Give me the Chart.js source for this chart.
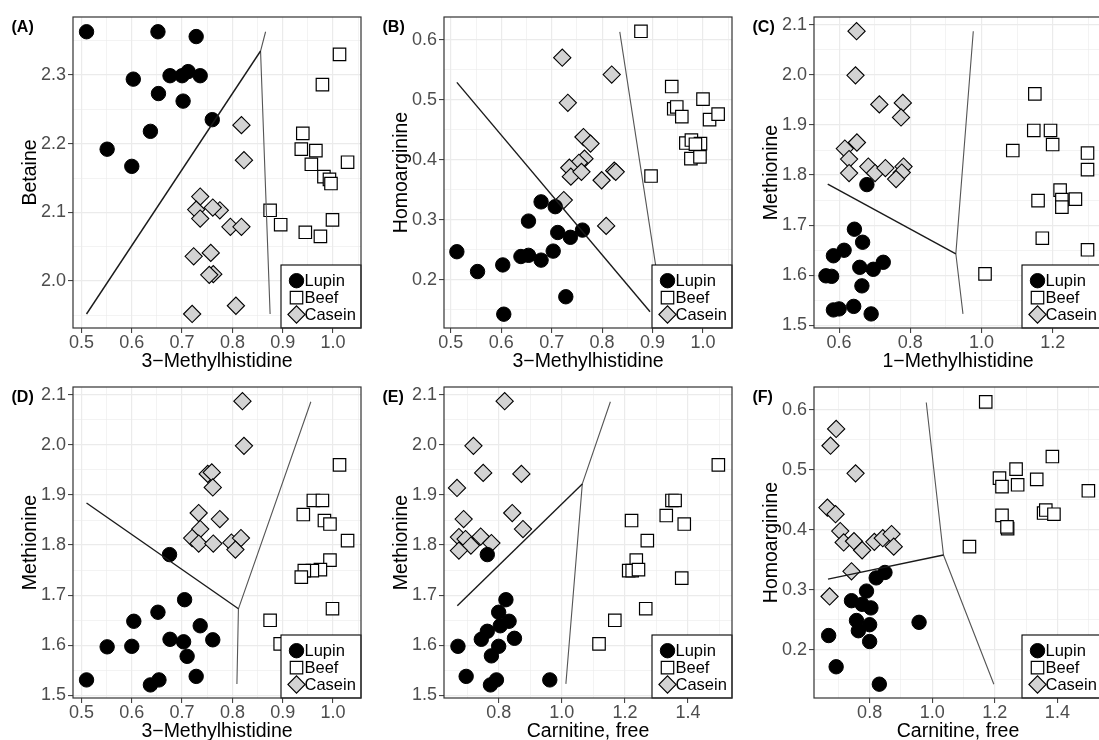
<!DOCTYPE html>
<html>
<head>
<meta charset="utf-8">
<title>Diet group separation plots</title>
<script src="https://cdn.jsdelivr.net/npm/chart.js@4.4.1/dist/chart.umd.min.js"></script>
<style>
  html, body { margin: 0; padding: 0; width: 1099px; height: 740px; overflow: hidden; background: #fff; }
  canvas { position: absolute; }
</style>
</head>
<body>
<canvas id="panelA" width="371" height="373" style="left:0px;top:0px"></canvas>
<canvas id="panelB" width="371" height="373" style="left:371px;top:0px"></canvas>
<canvas id="panelC" width="371" height="373" style="left:741px;top:0px"></canvas>
<canvas id="panelD" width="371" height="373" style="left:0px;top:370px"></canvas>
<canvas id="panelE" width="371" height="373" style="left:371px;top:370px"></canvas>
<canvas id="panelF" width="371" height="373" style="left:741px;top:370px"></canvas>
<script>
// ---- tick labels per variable ----
const ticks3MH = [0.5, 0.6, 0.7, 0.8, 0.9, 1.0];
const ticks1MH = [0.6, 0.8, 1.0, 1.2];
const ticksCarnitine = [0.8, 1.0, 1.2, 1.4];
const ticksBetaine = [2.0, 2.1, 2.2, 2.3];
const ticksHomoarginine = [0.2, 0.3, 0.4, 0.5, 0.6];
const ticksMethionine = [1.5, 1.6, 1.7, 1.8, 1.9, 2.0, 2.1];

// ---- (A) 3-Methylhistidine vs Betaine ----
const lupinA = [[0.510,2.363],[0.551,2.192],[0.600,2.167],[0.603,2.294],[0.637,2.218],[0.652,2.363],[0.653,2.273],[0.676,2.299],[0.700,2.299],[0.702,2.262],[0.712,2.305],[0.728,2.356],[0.736,2.299],[0.760,2.235]];
const beefA = [[1.013,2.330],[0.979,2.286],[0.940,2.215],[0.937,2.192],[0.966,2.190],[0.957,2.170],[1.029,2.173],[0.982,2.152],[0.993,2.148],[0.996,2.142],[0.875,2.103],[0.896,2.082],[0.999,2.089],[0.945,2.071],[0.975,2.065]];
const caseinA = [[0.818,2.227],[0.823,2.176],[0.736,2.123],[0.728,2.104],[0.775,2.103],[0.761,2.107],[0.736,2.091],[0.796,2.079],[0.818,2.079],[0.723,2.036],[0.757,2.041],[0.762,2.010],[0.754,2.009],[0.807,1.964],[0.720,1.952]];
const darkA = [[0.510,1.952],[0.856,2.335]];
const greyA = [[0.866,2.363],[0.856,2.335],[0.875,1.952]];

// ---- (B) 3-Methylhistidine vs Homoarginine ----
const lupinB = [[0.512,0.247],[0.553,0.214],[0.603,0.225],[0.605,0.143],[0.639,0.239],[0.654,0.298],[0.654,0.241],[0.679,0.330],[0.679,0.233],[0.707,0.322],[0.703,0.248],[0.712,0.279],[0.737,0.271],[0.728,0.172],[0.761,0.283]];
const beefB = [[0.877,0.614],[0.938,0.522],[1.000,0.501],[0.942,0.485],[0.948,0.488],[0.958,0.472],[1.013,0.467],[1.030,0.476],[0.966,0.428],[0.977,0.433],[0.995,0.427],[0.985,0.426],[0.976,0.402],[0.994,0.405],[0.897,0.373]];
const caseinB = [[0.721,0.570],[0.819,0.542],[0.732,0.495],[0.763,0.438],[0.777,0.427],[0.765,0.402],[0.754,0.395],[0.735,0.387],[0.738,0.372],[0.759,0.380],[0.799,0.366],[0.824,0.382],[0.827,0.380],[0.724,0.333],[0.808,0.290]];
const darkB = [[0.512,0.529],[0.895,0.147]];
const greyB = [[0.835,0.613],[0.921,0.143]];

// ---- (C) 1-Methylhistidine vs Methionine ----
const lupinC = [[0.678,1.781],[0.643,1.692],[0.666,1.666],[0.614,1.650],[0.584,1.639],[0.563,1.599],[0.579,1.598],[0.658,1.616],[0.696,1.612],[0.724,1.626],[0.664,1.579],[0.584,1.531],[0.600,1.533],[0.641,1.538],[0.690,1.523]];
const beefC = [[1.150,1.962],[1.147,1.889],[1.194,1.889],[1.200,1.861],[1.088,1.849],[1.298,1.844],[1.298,1.811],[1.221,1.770],[1.226,1.751],[1.226,1.736],[1.264,1.752],[1.159,1.749],[1.171,1.674],[1.298,1.651],[1.010,1.603]];
const caseinC = [[0.649,2.087],[0.646,1.999],[0.713,1.941],[0.779,1.944],[0.774,1.915],[0.616,1.853],[0.650,1.865],[0.628,1.832],[0.628,1.804],[0.682,1.817],[0.701,1.804],[0.730,1.814],[0.781,1.817],[0.776,1.805],[0.760,1.792]];
const darkC = [[0.568,1.782],[0.928,1.643]];
const greyC = [[0.977,2.087],[0.928,1.643],[0.948,1.523]];

// ---- (D) 3-Methylhistidine vs Methionine ----
const lupinD = [[0.510,1.531],[0.551,1.597],[0.600,1.598],[0.604,1.648],[0.637,1.521],[0.654,1.531],[0.652,1.666],[0.676,1.612],[0.675,1.781],[0.703,1.607],[0.705,1.691],[0.710,1.578],[0.728,1.538],[0.736,1.639],[0.761,1.611]];
const beefD = [[1.013,1.960],[0.961,1.889],[0.979,1.889],[0.941,1.861],[0.983,1.849],[0.994,1.842],[1.029,1.809],[0.994,1.770],[0.975,1.751],[0.959,1.749],[0.943,1.749],[0.937,1.736],[0.999,1.673],[0.875,1.650],[0.895,1.603]];
const caseinD = [[0.820,2.087],[0.823,1.998],[0.751,1.942],[0.759,1.945],[0.761,1.915],[0.733,1.864],[0.775,1.852],[0.736,1.832],[0.720,1.814],[0.733,1.803],[0.762,1.803],[0.798,1.805],[0.817,1.814],[0.806,1.791]];
const darkD = [[0.510,1.884],[0.812,1.673]];
const greyD = [[0.956,2.086],[0.812,1.673],[0.809,1.523]];

// ---- (E) Carnitine, free vs Methionine ----
const lupinE = [[0.764,1.781],[0.823,1.691],[0.800,1.666],[0.833,1.648],[0.805,1.639],[0.764,1.628],[0.745,1.612],[0.850,1.614],[0.800,1.598],[0.671,1.598],[0.777,1.579],[0.697,1.538],[0.793,1.531],[0.774,1.521],[0.962,1.531]];
const beefE = [[1.496,1.960],[1.349,1.889],[1.359,1.889],[1.331,1.859],[1.388,1.842],[1.221,1.849],[1.271,1.809],[1.236,1.770],[1.212,1.749],[1.223,1.749],[1.243,1.751],[1.380,1.734],[1.266,1.673],[1.168,1.650],[1.118,1.603]];
const caseinE = [[0.819,2.087],[0.720,1.998],[0.751,1.944],[0.872,1.942],[0.668,1.914],[0.689,1.852],[0.843,1.864],[0.877,1.832],[0.674,1.816],[0.695,1.812],[0.712,1.799],[0.743,1.817],[0.777,1.804],[0.674,1.789]];
const darkE = [[0.669,1.679],[1.065,1.922]];
const greyE = [[1.154,2.086],[1.065,1.922],[1.013,1.523]];

// ---- (F) Carnitine, free vs Homoarginine ----
const lupinF = [[0.849,0.329],[0.821,0.320],[0.790,0.298],[0.742,0.282],[0.776,0.276],[0.804,0.270],[0.758,0.249],[0.764,0.232],[0.800,0.242],[0.800,0.214],[0.669,0.224],[0.693,0.172],[0.831,0.143],[0.958,0.246]];
const beefF = [[1.171,0.613],[1.384,0.522],[1.268,0.501],[1.334,0.484],[1.215,0.486],[1.223,0.472],[1.273,0.475],[1.499,0.465],[1.223,0.424],[1.356,0.428],[1.363,0.433],[1.389,0.426],[1.241,0.402],[1.239,0.405],[1.119,0.372]];
const caseinF = [[0.693,0.568],[0.675,0.540],[0.755,0.494],[0.665,0.437],[0.691,0.426],[0.706,0.398],[0.717,0.379],[0.750,0.381],[0.776,0.366],[0.815,0.380],[0.842,0.386],[0.870,0.393],[0.877,0.372],[0.742,0.331],[0.672,0.289]];
const darkF = [[0.667,0.318],[1.036,0.358]];
const greyF = [[0.981,0.612],[1.036,0.358],[1.197,0.143]];

const FONT = '"Liberation Sans", Arial, Helvetica, sans-serif';

const panels = [
  { id: 'A', xTitle: '3\u2212Methylhistidine', yTitle: 'Betaine', xTicks: ticks3MH, yTicks: ticksBetaine,
    xRange: [0.4831, 1.0557], yRange: [1.9316, 2.3845], lupin: lupinA, beef: beefA, casein: caseinA, dark: darkA, grey: greyA },
  { id: 'B', xTitle: '3\u2212Methylhistidine', yTitle: 'Homoarginine', xTicks: ticks3MH, yTicks: ticksHomoarginine,
    xRange: [0.4865, 1.0575], yRange: [0.1200, 0.6378], lupin: lupinB, beef: beefB, casein: caseinB, dark: darkB, grey: greyB },
  { id: 'C', xTitle: '1\u2212Methylhistidine', yTitle: 'Methionine', xTicks: ticks1MH, yTicks: ticksMethionine,
    xRange: [0.5294, 1.3387], yRange: [1.4949, 2.1154], lupin: lupinC, beef: beefC, casein: caseinC, dark: darkC, grey: greyC },
  { id: 'D', xTitle: '3\u2212Methylhistidine', yTitle: 'Methionine', xTicks: ticks3MH, yTicks: ticksMethionine,
    xRange: [0.4831, 1.0557], yRange: [1.4949, 2.1154], lupin: lupinD, beef: beefD, casein: caseinD, dark: darkD, grey: greyD },
  { id: 'E', xTitle: 'Carnitine, free', yTitle: 'Methionine', xTicks: ticksCarnitine, yTicks: ticksMethionine,
    xRange: [0.6268, 1.5393], yRange: [1.4949, 2.1154], lupin: lupinE, beef: beefE, casein: caseinE, dark: darkE, grey: greyE },
  { id: 'F', xTitle: 'Carnitine, free', yTitle: 'Homoarginine', xTicks: ticksCarnitine, yTicks: ticksHomoarginine,
    xRange: [0.6222, 1.5426], yRange: [0.1200, 0.6378], lupin: lupinF, beef: beefF, casein: caseinF, dark: darkF, grey: greyF }
];

const isMajor = (majors, v) => majors.some(m => Math.abs(m - v) < 1e-6);

// major ticks plus the half-way minor ticks that fall inside the range
function withMinor(majors, range) {
  const step = majors[1] - majors[0];
  const out = [];
  if (majors[0] - step / 2 > range[0]) out.push(majors[0] - step / 2);
  majors.forEach(v => {
    out.push(v);
    if (v + step / 2 < range[1]) out.push(v + step / 2);
  });
  return out;
}

function makeAxis(majors, range, title, horizontal) {
  return {
    type: 'linear',
    bounds: 'data',
    min: range[0],
    max: range[1],
    afterBuildTicks: s => { s.ticks = withMinor(majors, range).map(v => ({ value: v })); },
    afterFit: s => { if (horizontal) s.height = 45; else s.width = 73; },
    ticks: {
      autoSkip: false,
      maxRotation: 0,
      color: '#4d4d4d',
      padding: horizontal ? 1 : 2,
      font: { family: FONT, size: 18, lineHeight: 1 },
      callback: v => isMajor(majors, v) ? v.toFixed(1) : ''
    },
    grid: {
      color: '#ebebeb',
      lineWidth: c => (c.tick && isMajor(majors, c.tick.value)) ? 1.2 : 0.6,
      tickLength: 5,
      tickWidth: 1,
      tickColor: c => (c.tick && isMajor(majors, c.tick.value)) ? '#333333' : 'rgba(0,0,0,0)'
    },
    border: { display: false },
    title: {
      display: true,
      text: title,
      color: '#000',
      font: { family: FONT, size: 19.5, lineHeight: 1.2 },
      padding: horizontal ? { top: 0, bottom: 0 } : { top: 19, bottom: 0 }
    }
  };
}

// panel frame, inset legend and (A)-(F) tag
const panelDecor = {
  id: 'panelDecor',
  afterDatasetsDraw(chart, args, opts) {
    const { ctx, chartArea: a } = chart;
    ctx.save();

    const w = 80, h = 63;
    const lx = a.right - w, ly = a.bottom - h;
    ctx.fillStyle = '#fff';
    ctx.fillRect(lx, ly, w, h);
    ctx.strokeStyle = '#000';
    ctx.lineWidth = 1.1;
    ctx.strokeRect(lx, ly, w, h);

    const groups = chart.data.datasets.filter(d => !d.showLine);
    groups.forEach((d, i) => {
      const cy = ly + 15.7 + i * 16.9;
      ctx.fillStyle = d.backgroundColor;
      ctx.strokeStyle = d.borderColor;
      ctx.lineWidth = d.borderWidth;
      Chart.helpers.drawPoint(ctx, { pointStyle: d.pointStyle, radius: d.pointRadius, borderWidth: d.borderWidth, rotation: 0 }, lx + 15.5, cy);
      ctx.fillStyle = '#000';
      ctx.font = '16.5px ' + FONT;
      ctx.textAlign = 'left';
      ctx.textBaseline = 'middle';
      ctx.fillText(d.label, lx + 23.5, cy + 0.5);
    });

    ctx.strokeStyle = '#333333';
    ctx.lineWidth = 1.2;
    ctx.strokeRect(a.left, a.top, a.right - a.left, a.bottom - a.top);

    ctx.fillStyle = '#000';
    ctx.font = 'bold 16px ' + FONT;
    ctx.textAlign = 'left';
    ctx.textBaseline = 'middle';
    ctx.fillText('(' + opts.tag + ')', 11.5, 27.5);
    ctx.restore();
  }
};

const toXY = pts => pts.map(p => ({ x: p[0], y: p[1] }));

panels.forEach(p => {
  new Chart(document.getElementById('panel' + p.id), {
    type: 'scatter',
    data: {
      datasets: [
        { data: toXY(p.dark), showLine: true, pointRadius: 0, borderColor: '#1a1a1a', borderWidth: 1.4, tension: 0 },
        { data: toXY(p.grey), showLine: true, pointRadius: 0, borderColor: '#555555', borderWidth: 1.1, tension: 0 },
        { label: 'Lupin', data: toXY(p.lupin), pointStyle: 'circle', pointRadius: 7.2,
          backgroundColor: '#000', borderColor: '#000', borderWidth: 1 },
        { label: 'Beef', data: toXY(p.beef), pointStyle: 'rect', pointRadius: 8.8,
          backgroundColor: '#fff', borderColor: '#000', borderWidth: 1.2 },
        { label: 'Casein', data: toXY(p.casein), pointStyle: 'rectRot', pointRadius: 8.6,
          backgroundColor: '#d3d3d3', borderColor: '#000', borderWidth: 1.1 }
      ]
    },
    options: {
      responsive: false,
      devicePixelRatio: 1,
      animation: false,
      events: [],
      layout: { padding: { top: 17, right: 3, left: 0, bottom: 0 } },
      scales: {
        x: makeAxis(p.xTicks, p.xRange, p.xTitle, true),
        y: makeAxis(p.yTicks, p.yRange, p.yTitle, false)
      },
      plugins: {
        legend: { display: false },
        tooltip: { enabled: false },
        panelDecor: { tag: p.id }
      }
    },
    plugins: [panelDecor]
  });
});
</script>
</body>
</html>
